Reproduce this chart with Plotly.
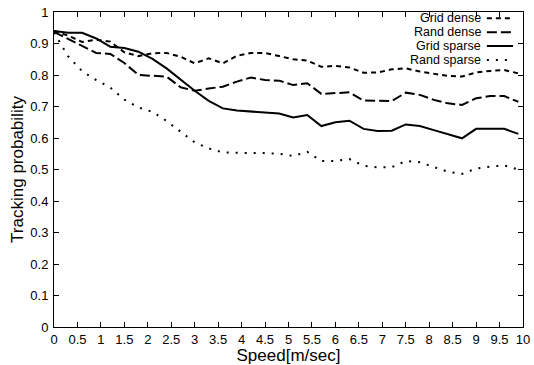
import plotly.graph_objects as go

speed = [0, 0.3, 0.6, 0.9, 1.2, 1.5, 1.8, 2.1, 2.4, 2.7, 3.0, 3.3, 3.6, 3.9, 4.2, 4.5, 4.8,
         5.1, 5.4, 5.7, 6.0, 6.3, 6.6, 6.9, 7.2, 7.5, 7.8, 8.1, 8.4, 8.7, 9.0, 9.3, 9.6, 9.9]

grid_dense = [0.940, 0.925, 0.905, 0.912, 0.906, 0.872, 0.860, 0.869, 0.870, 0.858, 0.837, 0.853,
              0.837, 0.861, 0.870, 0.870, 0.860,
              0.850, 0.846, 0.826, 0.829, 0.824, 0.807, 0.808, 0.818, 0.821, 0.811, 0.803,
              0.797, 0.795, 0.808, 0.813, 0.816, 0.805]
rand_dense = [0.937, 0.914, 0.893, 0.870, 0.867, 0.838, 0.800, 0.797, 0.795, 0.761, 0.750, 0.757,
              0.763, 0.779, 0.792, 0.784, 0.782,
              0.768, 0.774, 0.740, 0.742, 0.745, 0.719, 0.717, 0.717, 0.744, 0.737, 0.721,
              0.710, 0.705, 0.726, 0.733, 0.733, 0.715]
grid_sparse = [0.940, 0.934, 0.934, 0.916, 0.890, 0.886, 0.874, 0.851, 0.821, 0.785, 0.750, 0.718,
               0.694, 0.687, 0.684, 0.681, 0.678,
               0.665, 0.673, 0.638, 0.650, 0.655, 0.629, 0.622, 0.623, 0.643, 0.638, 0.625,
               0.612, 0.599, 0.629, 0.629, 0.629, 0.613]
rand_sparse = [0.935, 0.860, 0.812, 0.784, 0.760, 0.722, 0.697, 0.683, 0.654, 0.620, 0.586, 0.567,
               0.554, 0.553, 0.553, 0.552, 0.550,
               0.543, 0.556, 0.527, 0.527, 0.533, 0.512, 0.507, 0.507, 0.527, 0.523, 0.508,
               0.493, 0.486, 0.503, 0.509, 0.513, 0.500]

series_names = ["Grid dense", "Rand dense", "Grid sparse", "Rand sparse"]
series_values = [grid_dense, rand_dense, grid_sparse, rand_sparse]
dashes = ["5px,4px", "10px,4px", "solid", "2px,7px"]

x_ticks = [0, 0.5, 1, 1.5, 2, 2.5, 3, 3.5, 4, 4.5, 5, 5.5, 6, 6.5, 7, 7.5, 8, 8.5, 9, 9.5, 10]
x_labels = ["0", "0.5", "1", "1.5", "2", "2.5", "3", "3.5", "4", "4.5", "5", "5.5", "6", "6.5",
            "7", "7.5", "8", "8.5", "9", "9.5", "10"]
y_ticks = [0, 0.1, 0.2, 0.3, 0.4, 0.5, 0.6, 0.7, 0.8, 0.9, 1]
y_labels = ["0", "0.1", "0.2", "0.3", "0.4", "0.5", "0.6", "0.7", "0.8", "0.9", "1"]

FONT = "Liberation Sans, Arial, sans-serif"

fig = go.Figure()
for name, vals, dash in zip(series_names, series_values, dashes):
    fig.add_trace(go.Scatter(x=speed, y=vals, mode="lines", name=name,
                             line=dict(color="black", width=2, dash=dash),
                             showlegend=False))

# custom legend (text right-aligned, sample on the right) in paper coordinates
leg_y0 = 0.980
leg_dy = 0.044
for i, (name, dash) in enumerate(zip(series_names, dashes)):
    yy = leg_y0 - i * leg_dy
    fig.add_annotation(x=0.913, y=yy, xref="paper", yref="paper", text=name,
                       showarrow=False, xanchor="right", yanchor="middle", borderpad=0,
                       font=dict(family=FONT, size=12.5, color="black"))
    fig.add_shape(type="line", xref="paper", yref="paper", x0=0.923, x1=0.979, y0=yy, y1=yy,
                  line=dict(color="black", width=2, dash=dash))

axis_common = dict(showgrid=False, zeroline=False, showline=True, linecolor="black",
                   linewidth=1, mirror="allticks", ticks="inside", ticklen=5,
                   tickcolor="black", automargin=False,
                   tickfont=dict(family=FONT, size=13, color="black"))

fig.update_xaxes(range=[0, 10], tickvals=x_ticks, ticktext=x_labels,
                 title=dict(text="Speed[m/sec]", font=dict(family=FONT, size=17, color="black"),
                            standoff=0),
                 **axis_common)
fig.update_yaxes(range=[0, 1], tickvals=y_ticks, ticktext=y_labels, ticklabelstandoff=2,
                 title=dict(text="Tracking probability", font=dict(family=FONT, size=17, color="black"),
                            standoff=2),
                 **axis_common)

fig.update_layout(width=534, height=365, margin=dict(l=54, r=11, t=12, b=38),
                  plot_bgcolor="white", paper_bgcolor="white",
                  font=dict(family=FONT, color="black"))

fig.write_html("out.html", config={"displayModeBar": False},
               post_script="document.body.style.margin='0';document.body.style.overflow='hidden';")
